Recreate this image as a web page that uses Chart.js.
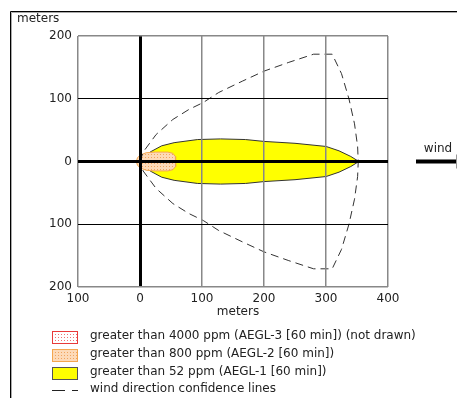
<!DOCTYPE html>
<html>
<head>
<meta charset="utf-8">
<script src="https://cdn.jsdelivr.net/npm/chart.js@4"></script>
<style>
  body { margin: 0; background: #fff; }
  canvas { display: block; }
</style>
</head>
<body>
<canvas id="zone" width="457" height="398"></canvas>
<script>
// threat zone outlines, meters downwind (x) / crosswind (y)
var aegl1X = [0, 6, 18, 35, 55, 93, 130, 170, 200, 250, 300, 321, 340, 353, 340, 321, 300, 250, 200, 170, 130, 93, 55, 35, 18, 6, 0];
var aegl1Y = [0, 8, 16, 25, 30, 35, 36, 35, 32, 29, 24, 17, 8, 0, -8, -17, -24, -29, -32, -35, -36, -35, -30, -25, -16, -8, 0];

var aegl2X = [-6, -4, 0, 10, 25, 45, 53, 57, 58, 57, 53, 45, 25, 10, 0, -4, -6];
var aegl2Y = [0, 6, 10, 14, 15, 15, 13, 8, 0, -8, -13, -15, -15, -14, -10, -6, 0];

// wind direction confidence lines
var confX = [0, 5, 26, 53, 79, 102, 127, 165, 200, 240, 280, 310, 325, 337, 346, 351, 352, 351, 346, 337, 325, 310, 280, 240, 200, 165, 127, 102, 79, 53, 26, 5, 0];
var confY = [0, 15, 43, 67, 83, 94, 110, 128, 144, 158, 171, 171, 140, 100, 60, 24, 0, -24, -60, -100, -140, -171, -171, -158, -144, -128, -110, -94, -83, -67, -43, -15, 0];

var xTicks = [-100, 0, 100, 200, 300, 400];
var yTicks = [-200, -100, 0, 100, 200];

var legendLabels = [
  'greater than 4000 ppm (AEGL-3 [60 min]) (not drawn)',
  'greater than 800 ppm (AEGL-2 [60 min])',
  'greater than 52 ppm (AEGL-1 [60 min])',
  'wind direction confidence lines'
];

var FONT = '"DejaVu Sans", Verdana, sans-serif';

function zip(xs, ys) {
  var out = [];
  for (var i = 0; i < xs.length; i++) out.push({x: xs[i], y: ys[i]});
  return out;
}

function dotPattern(bg, dot) {
  var c = document.createElement('canvas');
  c.width = 3; c.height = 3;
  var g = c.getContext('2d');
  g.fillStyle = bg; g.fillRect(0, 0, 3, 3);
  g.fillStyle = dot; g.fillRect(1, 1, 1, 1);
  return document.getElementById('zone').getContext('2d').createPattern(c, 'repeat');
}

var orangeFill = dotPattern('#fddab8', '#f0a45e');
var redFill = dotPattern('#ffffff', '#f07070');

var decor = {
  id: 'decor',
  beforeDraw: function(chart) {
    var c = chart.ctx;
    c.save();
    c.fillStyle = '#fff';
    c.fillRect(0, 0, chart.width, chart.height);
    c.restore();
  },
  afterDraw: function(chart) {
    var c = chart.ctx;
    c.save();
    // outer frame
    c.strokeStyle = '#000';
    c.lineWidth = 1;
    c.beginPath();
    c.moveTo(10.5, 398); c.lineTo(10.5, 11.5); c.lineTo(457, 11.5);
    c.stroke();
    c.strokeStyle = '#aaa';
    c.beginPath();
    c.moveTo(11.5, 398); c.lineTo(11.5, 12.5); c.lineTo(457, 12.5);
    c.stroke();

    c.fillStyle = '#222';
    c.font = '12px ' + FONT;
    c.textBaseline = 'middle';
    c.textAlign = 'left';
    c.fillText('meters', 17, 19);
    c.textAlign = 'center';
    c.fillText('meters', 238, 312);

    // wind arrow
    var y0 = chart.scales.y.getPixelForValue(0);
    c.fillText('wind', 438, 149);
    c.strokeStyle = '#000';
    c.lineWidth = 4;
    c.beginPath(); c.moveTo(416, y0); c.lineTo(457, y0); c.stroke();
    c.strokeStyle = '#999';
    c.lineWidth = 1;
    c.beginPath(); c.moveTo(456.5, y0 - 7); c.lineTo(456.5, y0 + 7); c.stroke();

    // legend
    var rows = [337, 354.5, 373, 390];
    c.textAlign = 'left';
    c.fillStyle = redFill; c.fillRect(52, 331, 26, 12);
    c.strokeStyle = '#e83a3a'; c.lineWidth = 1; c.strokeRect(52.5, 331.5, 25, 12);
    c.fillStyle = orangeFill; c.fillRect(52, 349, 26, 12);
    c.strokeStyle = '#f4a64e'; c.strokeRect(52.5, 349.5, 25, 12);
    c.fillStyle = '#ffff00'; c.fillRect(52, 367, 26, 12);
    c.strokeStyle = '#555'; c.strokeRect(52.5, 367.5, 25, 12);
    c.strokeStyle = '#222';
    c.beginPath(); c.moveTo(52, 390.5); c.lineTo(65, 390.5); c.moveTo(72, 390.5); c.lineTo(78, 390.5); c.stroke();
    c.fillStyle = '#222';
    for (var i = 0; i < legendLabels.length; i++) {
      c.fillText(legendLabels[i], 90, rows[i] - 1);
    }
    c.restore();
  }
};

new Chart(document.getElementById('zone'), {
  type: 'line',
  data: {
    datasets: [
      {
        data: zip(aegl1X, aegl1Y),
        order: 3,
        borderColor: '#333',
        borderWidth: 1,
        backgroundColor: '#ffff00',
        fill: 'shape',
        pointRadius: 0,
        tension: 0
      },
      {
        data: zip(aegl2X, aegl2Y),
        order: 2,
        borderColor: '#f4a64e',
        borderWidth: 1,
        backgroundColor: orangeFill,
        fill: 'shape',
        pointRadius: 0,
        tension: 0
      },
      {
        data: zip(confX, confY),
        order: 1,
        borderColor: '#333',
        borderWidth: 1,
        borderDash: [8, 5],
        fill: false,
        pointRadius: 0,
        tension: 0
      }
    ]
  },
  options: {
    responsive: false,
    animation: false,
    layout: { padding: { left: 0, top: 36, right: 69, bottom: 0 } },
    plugins: { legend: { display: false }, tooltip: { enabled: false } },
    scales: {
      x: {
        type: 'linear',
        min: -100, max: 400,
        afterFit: function(s) { s.height = 111; },
        afterBuildTicks: function(s) { s.ticks = xTicks.map(function(v) { return {value: v}; }); },
        border: { display: false },
        grid: {
          z: 1,
          drawTicks: false,
          color: function(ctx) { return ctx.tick && ctx.tick.value === 0 ? '#000' : '#888'; },
          lineWidth: function(ctx) { return ctx.tick && ctx.tick.value === 0 ? 3 : 1.5; }
        },
        ticks: {
          padding: 5,
          maxRotation: 0,
          autoSkip: false,
          color: '#222',
          font: { family: FONT, size: 12 },
          callback: function(v) { return Math.abs(v); }
        }
      },
      y: {
        min: -200, max: 200,
        afterFit: function(s) { s.width = 78; },
        afterBuildTicks: function(s) { s.ticks = yTicks.map(function(v) { return {value: v}; }); },
        border: { display: false },
        grid: {
          z: 1,
          drawTicks: false,
          color: function(ctx) {
            if (!ctx.tick) return '#888';
            var v = Math.abs(ctx.tick.value);
            return v === 200 ? '#888' : '#000';
          },
          lineWidth: function(ctx) {
            if (!ctx.tick) return 1;
            var v = Math.abs(ctx.tick.value);
            return v === 0 ? 3 : (v === 200 ? 1.5 : 1);
          }
        },
        ticks: {
          padding: 6,
          autoSkip: false,
          color: '#222',
          font: { family: FONT, size: 12 },
          callback: function(v) { return Math.abs(v); }
        }
      }
    }
  },
  plugins: [decor]
});
</script>
</body>
</html>
